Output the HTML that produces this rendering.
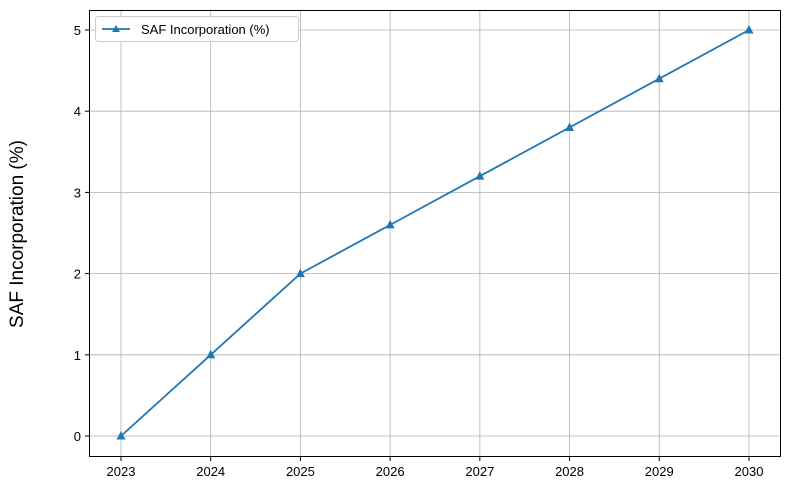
<!DOCTYPE html>
<html><head><meta charset="utf-8"><style>
body{margin:0;background:#fff;}
svg{display:block;font-family:"Liberation Sans","DejaVu Sans",sans-serif;}
</style></head><body>
<svg id="chart" width="790" height="490">
<g id="grid"></g>
<g id="axes"></g>
<g id="series"></g>
<rect x="89.5" y="10.5" width="691" height="446" fill="none" stroke="#000" stroke-width="1"/>
<text x="23" y="234" font-size="19" text-anchor="middle" transform="rotate(-90 23 234)">SAF Incorporation (%)</text>
<g>
<rect x="95.5" y="16.5" width="203" height="25" rx="3" fill="#fff" stroke="#ccc"/>
<line x1="102" y1="29" x2="130" y2="29" stroke="#1f77b4" stroke-width="1.8"/>
<polygon points="116,25 120,32 112,32" fill="#1f77b4"/>
<text x="141" y="34" font-size="13">SAF Incorporation (%)</text>
</g>
</svg>
<script>
const years=[2023,2024,2025,2026,2027,2028,2029,2030];
const values=[0,1,2,2.6,3.2,3.8,4.4,5];
const yTicks=[0,1,2,3,4,5];
const NS="http://www.w3.org/2000/svg";
function xs(v){return 121+(v-2023)*89.71;}
function ys(v){return 436-v*81.2;}
function mk(t,a,p){const e=document.createElementNS(NS,t);for(const k in a)e.setAttribute(k,a[k]);p.appendChild(e);return e;}
const grid=document.getElementById('grid'),axes=document.getElementById('axes'),ser=document.getElementById('series');
years.forEach(y=>{
 const x=xs(y);
 const g=mk('line',{x1:x,y1:10,x2:x,y2:457,stroke:'#b0b0b0','stroke-width':0.8},grid);
 
 
 const t=mk('line',{x1:x,y1:457,x2:x,y2:461,stroke:'#000'},axes);
 
 
 const l=mk('text',{x:x,y:476,'font-size':13,'text-anchor':'middle'},axes);l.textContent=y;
 
 
});
yTicks.forEach(v=>{
 const y=ys(v);
 const g=mk('line',{x1:89,y1:y,x2:781,y2:y,stroke:'#b0b0b0','stroke-width':0.8},grid);
 
 
 const t=mk('line',{x1:85,y1:y,x2:89,y2:y,stroke:'#000'},axes);
 
 
 const l=mk('text',{x:81,y:y+5,'font-size':13,'text-anchor':'end'},axes);l.textContent=v;
 
 
});
const pts=years.map((y,i)=>xs(y)+','+ys(values[i])).join(' ');
const line=mk('polyline',{points:pts,fill:'none',stroke:'#1f77b4','stroke-width':1.8},ser);


years.forEach((y,i)=>{
 const x=xs(y),yy=ys(values[i]);
 const p=mk('polygon',{points:`${x},${yy-5} ${x+4.5},${yy+3.5} ${x-4.5},${yy+3.5}`,fill:'#1f77b4'},ser);
 
 
});
</script>
</body></html>
